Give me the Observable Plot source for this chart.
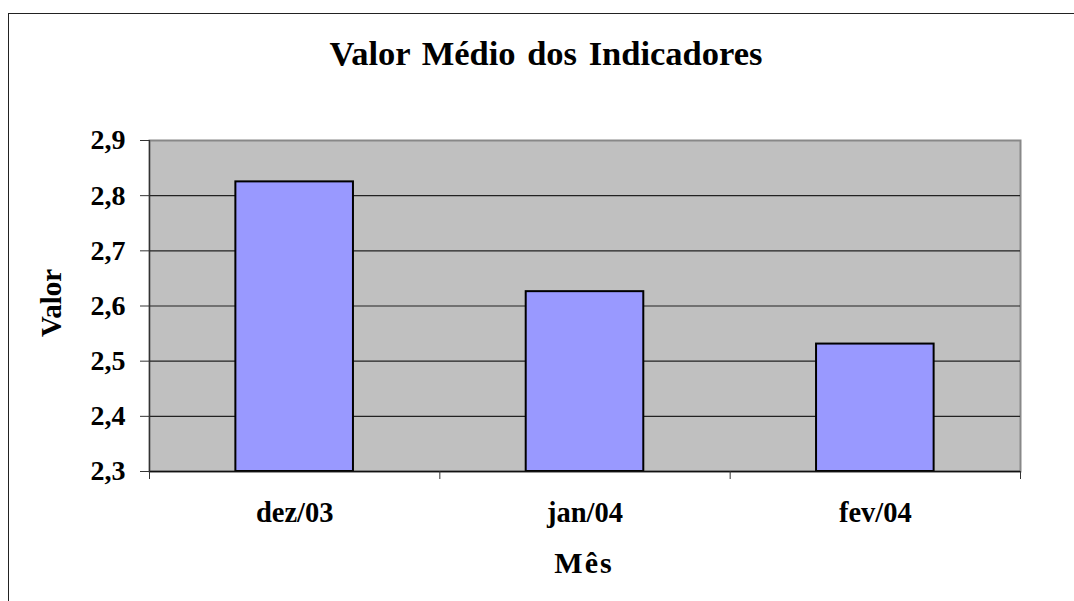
<!DOCTYPE html>
<html>
<head>
<meta charset="utf-8">
<script src="https://cdn.jsdelivr.net/npm/d3@7"></script>
<script src="https://cdn.jsdelivr.net/npm/@observablehq/plot@0.6"></script>
<style>
  html, body { margin: 0; padding: 0; background: #fff; overflow: hidden; }
  #wrap { position: relative; width: 1074px; height: 601px; overflow: hidden; font-family: "Liberation Serif", "Times New Roman", serif; font-weight: bold; color: #000; }
  #border { position: absolute; left: 8px; top: 13px; width: 1100px; height: 700px; border: 1.5px solid #222; box-sizing: border-box; }
  #chart { position: absolute; left: 0; top: 0; }
  .lbl { position: absolute; white-space: nowrap; text-align: center; }
  #title { left: 296px; width: 500px; top: 36px; font-size: 34.5px; line-height: 34px; word-spacing: 3px; }
  #xlabel { left: 434px; width: 300px; top: 548px; font-size: 30px; line-height: 30px; letter-spacing: 2px; }
  #ylabel { left: 51px; top: 303px; font-size: 29px; line-height: 29px; transform: translate(-50%, -50%) rotate(-90deg); }
</style>
</head>
<body>
<div id="wrap">
  <div id="border"></div>
  <div id="chart"></div>
  <div class="lbl" id="title">Valor Médio dos Indicadores</div>
  <div class="lbl" id="xlabel">Mês</div>
  <div class="lbl" id="ylabel">Valor</div>
</div>
<script>
const categories = ["dez/03", "jan/04", "fev/04"];
const values = [2.825, 2.626, 2.531];
const yTicks = [2.3, 2.4, 2.5, 2.6, 2.7, 2.8, 2.9];

const yMin = yTicks[0];
const yMax = yTicks[yTicks.length - 1];
const barFrac = 0.405;
const data = categories.map((c, i) => ({ i, category: c, value: values[i] }));
const boundaries = d3.range(categories.length + 1);
const centers = categories.map((c, i) => i + 0.5);

const chart = Plot.plot({
  width: 1074,
  height: 601,
  marginTop: 140,
  marginLeft: 149,
  marginRight: 54,
  marginBottom: 130,
  style: { fontFamily: "'Liberation Serif', 'Times New Roman', serif", fontWeight: "bold", color: "#000", background: "transparent" },
  x: { type: "linear", domain: [0, categories.length], axis: null },
  y: { domain: [yMin, yMax], axis: null },
  marks: [
    Plot.frame({ fill: "#c0c0c0", stroke: "#888", strokeWidth: 2 }),
    Plot.gridY(yTicks.slice(1, -1), { stroke: "#222", strokeOpacity: 1, strokeWidth: 1.2 }),
    Plot.ruleX([0], { stroke: "#333", strokeWidth: 1.2 }),
    Plot.rectY(data, {
      x1: d => d.i + 0.5 - barFrac / 2,
      x2: d => d.i + 0.5 + barFrac / 2,
      y1: yMin,
      y2: "value",
      fill: "#9999ff",
      stroke: "#000",
      strokeWidth: 2
    }),
    Plot.ruleY([yMin], { stroke: "#111", strokeWidth: 1.5 }),
    Plot.axisY(yTicks, {
      tickSize: 9,
      tickPadding: 15,
      stroke: "#333",
      fontSize: 28,
      tickFormat: d => d.toFixed(1).replace(".", ","),
      label: null
    }),
    Plot.axisX(boundaries, {
      tickSize: 8,
      stroke: "#333",
      tickFormat: () => "",
      label: null
    }),
    Plot.axisX(centers, {
      tickSize: 0,
      tickPadding: 30,
      fontSize: 28.5,
      tickFormat: d => categories[Math.round(d - 0.5)],
      label: null
    })
  ]
});
document.getElementById("chart").appendChild(chart);
</script>
</body>
</html>
